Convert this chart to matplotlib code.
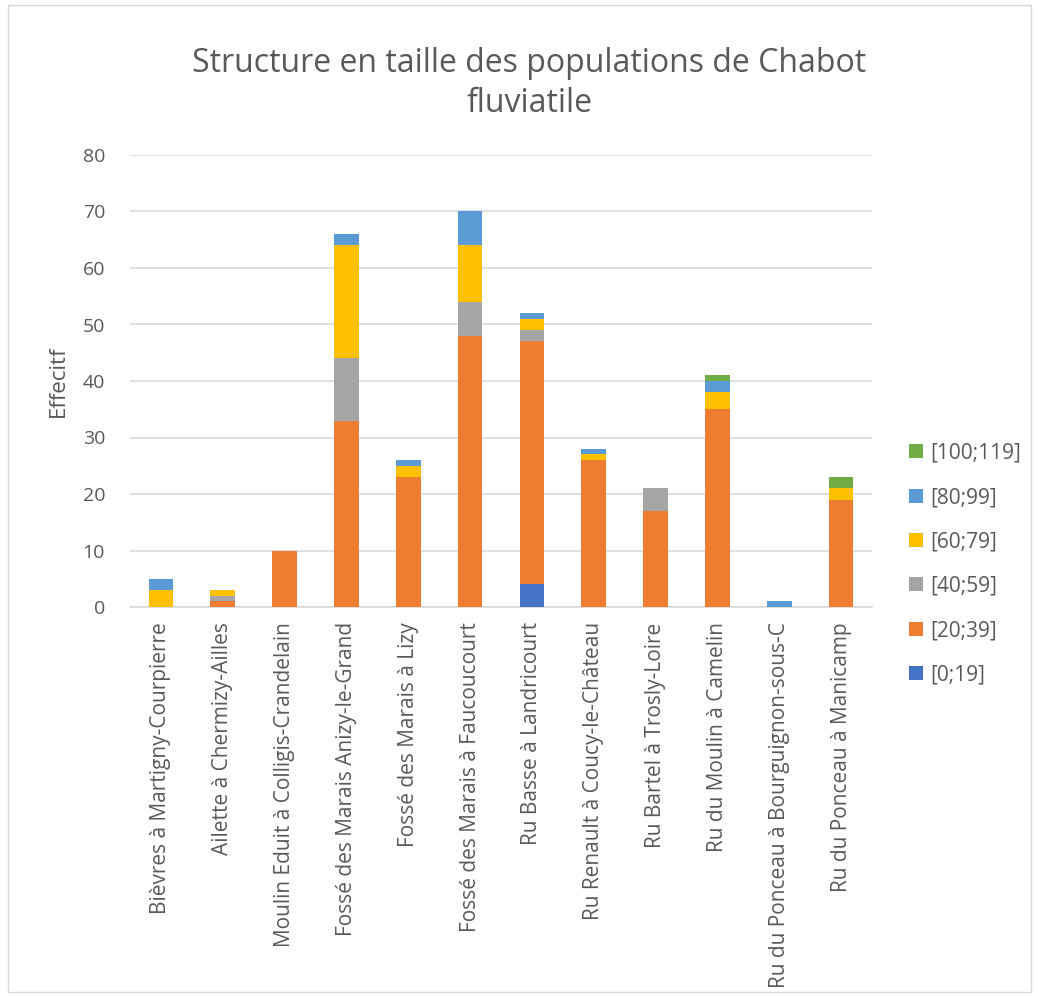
import matplotlib.pyplot as plt
import numpy as np
from matplotlib.patches import Rectangle

plt.rcParams['font.family'] = ['Open Sans', 'DejaVu Sans']

sites = ["Bièvres à Martigny-Courpierre", "Ailette à Chermizy-Ailles",
         "Moulin Eduit à Colligis-Crandelain", "Fossé des Marais Anizy-le-Grand",
         "Fossé des Marais à Lizy", "Fossé des Marais à Faucoucourt",
         "Ru Basse à Landricourt", "Ru Renault à Coucy-le-Château",
         "Ru Bartel à Trosly-Loire", "Ru du Moulin à Camelin",
         "Ru du Ponceau à Bourguignon-sous-C", "Ru du Ponceau à Manicamp"]

classes = ["[0;19]", "[20;39]", "[40;59]", "[60;79]", "[80;99]", "[100;119]"]
colors = ["#4472C4", "#ED7D31", "#A5A5A5", "#FFC000", "#5B9BD5", "#70AD47"]

c_0_19 = [0, 0, 0, 0, 0, 0, 4, 0, 0, 0, 0, 0]
c_20_39 = [0, 1, 10, 33, 23, 48, 43, 26, 17, 35, 0, 19]
c_40_59 = [0, 1, 0, 11, 0, 6, 2, 0, 4, 0, 0, 0]
c_60_79 = [3, 1, 0, 20, 2, 10, 2, 1, 0, 3, 0, 2]
c_80_99 = [2, 0, 0, 2, 1, 6, 1, 1, 0, 2, 1, 0]
c_100_119 = [0, 0, 0, 0, 0, 0, 0, 0, 0, 1, 0, 2]
series = [c_0_19, c_20_39, c_40_59, c_60_79, c_80_99, c_100_119]

fig = plt.figure(figsize=(10.38, 9.97), dpi=100)
ax = fig.add_axes([130/1038, 1-607/997, 742/1038, 452/997])

x = np.arange(len(sites))
bottom = np.zeros(len(sites))
handles = []
for vals, lab, col in zip(series, classes, colors):
    b = ax.bar(x, vals, 0.4, bottom=bottom, color=col, label=lab, zorder=3)
    handles.append(b)
    bottom += np.array(vals)

ax.set_xlim(-0.5, len(sites) - 0.5)
ax.set_ylim(0, 80)
ax.set_yticks(range(0, 81, 10))
ax.grid(axis='y', color='#d9d9d9', linewidth=1.2, zorder=0)
for s in ['top', 'right', 'left']:
    ax.spines[s].set_visible(False)
ax.spines['bottom'].set_color('#d9d9d9')
ax.spines['bottom'].set_linewidth(1.2)
ax.tick_params(length=0, colors='#595959')
ax.tick_params(axis='y', labelsize=14, pad=18)
ax.tick_params(axis='x', labelsize=15, pad=11)
ax.set_xticks(x)
ax.set_xticklabels(sites, rotation=90)
ax.set_ylabel("Effecitf", fontsize=16, color='#595959', labelpad=10)

fig.text(0.51, 0.916, "Structure en taille des populations de Chabot\nfluviatile",
         ha='center', va='center', fontsize=23, color='#595959', linespacing=1.3)

leg = ax.legend(handles[::-1], classes[::-1], loc='center left',
                bbox_to_anchor=(1.025, 0.095), frameon=False, fontsize=15,
                labelspacing=1.12, handlelength=0.65, handleheight=0.65,
                handletextpad=0.35)
for t in leg.get_texts():
    t.set_color('#595959')

fig.patches.append(Rectangle((0.008, 0.005), 0.985, 0.99, transform=fig.transFigure,
                             fill=False, edgecolor='#d9d9d9', linewidth=1))

fig.savefig("out.png", dpi=100)
